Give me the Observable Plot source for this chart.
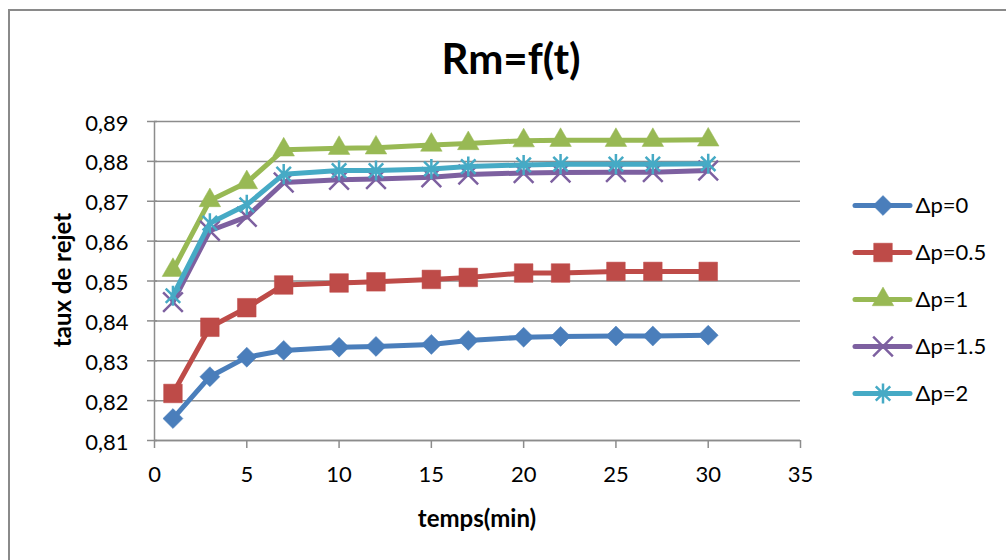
<!DOCTYPE html>
<html><head><meta charset="utf-8">
<script src="https://cdn.jsdelivr.net/npm/d3@7"></script>
<script src="https://cdn.jsdelivr.net/npm/@observablehq/plot@0.6"></script>
<style>
html,body{margin:0;padding:0;background:#fff;}
#chart{position:relative;width:1006px;height:560px;overflow:hidden;font-family:Lato,sans-serif;background:#fff;}
#frame{position:absolute;left:8px;top:9px;width:1030px;height:600px;border:2px solid #8a8a8a;box-sizing:border-box;}
.lbl{position:absolute;white-space:nowrap;color:#000;font-weight:bold;line-height:1;}
#title{left:511px;top:58px;transform:translate(-50%,-50%);font-size:42px;}
#xtitle{left:477px;top:518px;transform:translate(-50%,-50%);font-size:24px;}
#ytitle{left:62px;top:280px;transform:translate(-50%,-50%) rotate(-90deg);font-size:24px;}
#main{position:absolute;left:0;top:0;}
#legend{position:absolute;left:850px;top:180px;}
</style></head>
<body>
<div id="chart">
  <div id="frame"></div>
  <div id="main"></div>
  <div id="legend"></div>
  <div class="lbl" id="title">Rm=f(t)</div>
  <div class="lbl" id="xtitle">temps(min)</div>
  <div class="lbl" id="ytitle">taux de rejet</div>
</div>
<script>
// ---- data ----
const temps = [1, 3, 5, 7, 10, 12, 15, 17, 20, 22, 25, 27, 30];
const dp0  = [0.8155, 0.8260, 0.8309, 0.8326, 0.8334, 0.8336, 0.8341, 0.8351, 0.8359, 0.8361, 0.8362, 0.8362, 0.8364];
const dp05 = [0.8218, 0.8384, 0.8433, 0.8490, 0.8495, 0.8498, 0.8504, 0.8509, 0.8520, 0.8520, 0.8524, 0.8524, 0.8524];
const dp1  = [0.8527, 0.8702, 0.8747, 0.8829, 0.8833, 0.8834, 0.8841, 0.8845, 0.8852, 0.8853, 0.8853, 0.8853, 0.8854];
const dp15 = [0.8447, 0.8626, 0.8661, 0.8747, 0.8754, 0.8756, 0.8760, 0.8767, 0.8771, 0.8772, 0.8773, 0.8773, 0.8777];
const dp2  = [0.8463, 0.8645, 0.8691, 0.8768, 0.8777, 0.8777, 0.8781, 0.8787, 0.8791, 0.8793, 0.8793, 0.8793, 0.8794];
const seriesNames = ["Δp=0", "Δp=0.5", "Δp=1", "Δp=1.5", "Δp=2"];
const seriesValues = [dp0, dp05, dp1, dp15, dp2];
const xTicks = [0, 5, 10, 15, 20, 25, 30, 35];
const yTicks = [0.81, 0.82, 0.83, 0.84, 0.85, 0.86, 0.87, 0.88, 0.89];

// ---- styles ----
const colors = ["#4a7ebb", "#be4b48", "#98b954", "#7d60a0", "#46aac5"];
const asterisk = {
  draw(context, size) {
    const r = Math.sqrt(size) * 0.63;
    const d = r * 0.72;
    context.moveTo(0, -r); context.lineTo(0, r);
    context.moveTo(-d, -d); context.lineTo(d, d);
    context.moveTo(-d, d); context.lineTo(d, -d);
  }
};
const symbols = ["diamond2", "square", "triangle", "times", asterisk];
const radii = [9, 10.5, 8, 9, 9];
const filled = [true, true, true, false, false];
const gray = "#8c8c8c";
const fmt = d => d.toFixed(2).replace(".", ",");

const rows = seriesNames.flatMap((s, i) => temps.map((t, j) => ({s, t, v: seriesValues[i][j]})));

function dotOpts(i, extra) {
  const o = {symbol: symbols[i], r: radii[i], ...extra};
  if (filled[i]) { o.fill = colors[i]; o.stroke = colors[i]; o.strokeWidth = 0.5; }
  else { o.fill = "none"; o.stroke = colors[i]; o.strokeWidth = 2.5; }
  return o;
}

const seriesMarks = seriesNames.flatMap((name, i) => {
  const d = rows.filter(r => r.s === name);
  return [
    Plot.line(d, {x: "t", y: "v", stroke: colors[i], strokeWidth: 5, strokeLinejoin: "round", strokeLinecap: "round"}),
    Plot.dot(d, dotOpts(i, {x: "t", y: "v"}))
  ];
});

const main = Plot.plot({
  width: 1006, height: 560,
  marginTop: 121, marginBottom: 120, marginLeft: 154, marginRight: 206,
  x: {domain: [0, 35]},
  y: {domain: [0.81, 0.89]},
  style: {fontFamily: "Lato, sans-serif", background: "transparent", overflow: "visible", color: "#000"},
  marks: [
    Plot.gridY(yTicks, {stroke: gray, strokeOpacity: 1, strokeWidth: 1.5}),
    Plot.ruleY(yTicks, {x1: 0, x2: 0, insetLeft: -7, insetRight: -3, stroke: gray, strokeWidth: 1.5}),
    Plot.axisY(yTicks, {tickSize: 0, tickPadding: 26, tickFormat: fmt, fontSize: 22, fill: "#000", label: null, dy: 2}),
    Plot.axisX(xTicks, {tickSize: 8, tickPadding: 18, fontSize: 22, stroke: gray, strokeWidth: 1.5, fill: "#000", label: null}),
    Plot.ruleX([0], {stroke: gray, strokeWidth: 1.5}),
    Plot.ruleY([0.81], {stroke: gray, strokeWidth: 1.5}),
    ...seriesMarks
  ]
});
document.getElementById("main").appendChild(main);

const legendRows = seriesNames.map((name, i) => ({name, i}));
const legend = Plot.plot({
  width: 156, height: 240,
  margin: 0,
  x: {domain: [0, 1], range: [5, 60], axis: null},
  y: {type: "point", domain: seriesNames, range: [23, 214], padding: 0, axis: null},
  style: {fontFamily: "Lato, sans-serif", background: "transparent", overflow: "visible"},
  marks: [
    ...legendRows.flatMap(({name, i}) => [
      Plot.ruleY([name], {x1: 0, x2: 1, stroke: colors[i], strokeWidth: 5, strokeLinecap: "round"}),
      Plot.dot([name], dotOpts(i, {x: () => 0.5, y: d => d}))
    ]),
    Plot.text(seriesNames, {x: () => 1, y: d => d, text: d => d, dx: 5, textAnchor: "start", fontSize: 22, fill: "#000"})
  ]
});
document.getElementById("legend").appendChild(legend);
</script>
</body></html>
